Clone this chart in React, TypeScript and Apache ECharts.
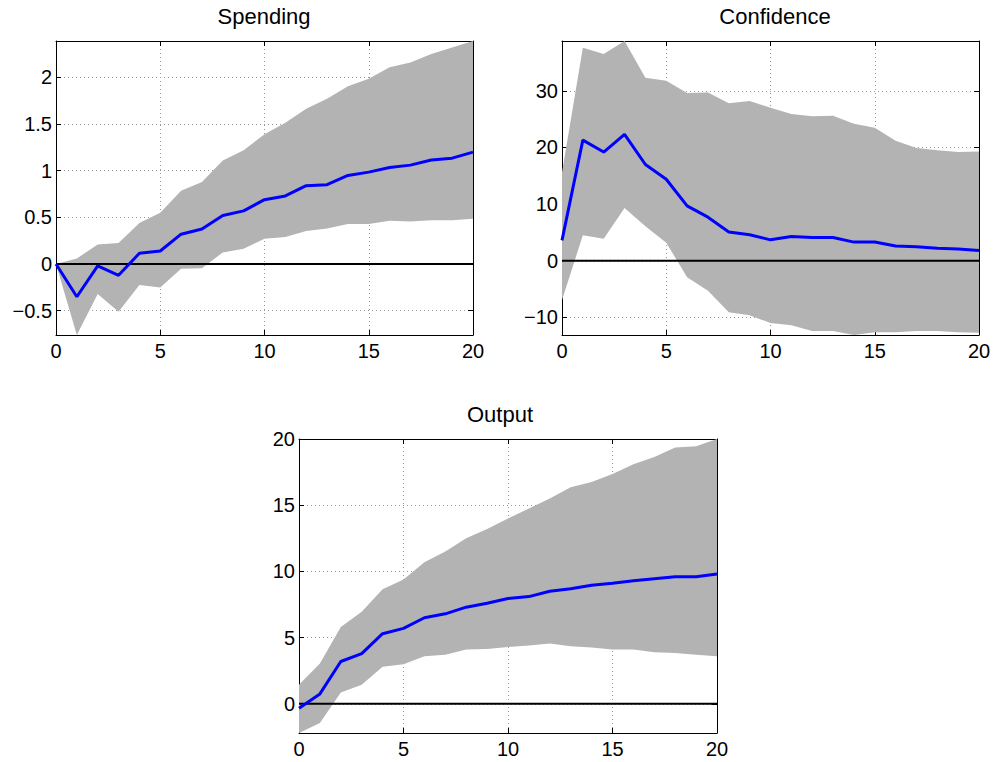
import { useEffect, useRef } from "react";
import * as echarts from "echarts";

const horizon = [0, 1, 2, 3, 4, 5, 6, 7, 8, 9, 10, 11, 12, 13, 14, 15, 16, 17, 18, 19, 20];

const spendingMean = [0, -0.35, -0.02, -0.12, 0.115, 0.14, 0.32, 0.375, 0.52, 0.57, 0.69, 0.73, 0.84, 0.85, 0.95, 0.985, 1.035, 1.06, 1.115, 1.135, 1.2];
const spendingUpper = [0, 0.06, 0.21, 0.225, 0.44, 0.55, 0.785, 0.88, 1.11, 1.22, 1.39, 1.515, 1.665, 1.77, 1.905, 1.985, 2.11, 2.16, 2.25, 2.32, 2.39];
const spendingLower = [0, -0.76, -0.32, -0.51, -0.225, -0.25, -0.05, -0.045, 0.125, 0.165, 0.27, 0.29, 0.355, 0.38, 0.43, 0.43, 0.465, 0.455, 0.47, 0.47, 0.485];

const confidenceMean = [3.6, 21.3, 19.2, 22.3, 17.0, 14.4, 9.7, 7.7, 5.1, 4.6, 3.7, 4.3, 4.1, 4.1, 3.3, 3.3, 2.6, 2.5, 2.2, 2.1, 1.8];
const confidenceUpper = [15.6, 37.6, 36.5, 38.8, 32.3, 31.8, 29.6, 29.7, 27.8, 28.2, 27.0, 25.9, 25.5, 25.6, 24.2, 23.5, 21.2, 19.9, 19.5, 19.2, 19.3];
const confidenceLower = [-6.9, 4.5, 3.9, 9.3, 6.1, 3.2, -2.9, -5.3, -9.1, -9.6, -11.0, -11.4, -12.4, -12.4, -13.1, -12.6, -12.6, -12.4, -12.4, -12.6, -12.7];

const outputMean = [-0.33, 0.75, 3.2, 3.8, 5.3, 5.7, 6.5, 6.8, 7.3, 7.6, 7.95, 8.1, 8.5, 8.7, 8.95, 9.1, 9.3, 9.45, 9.6, 9.6, 9.8];
const outputUpper = [1.45, 3.05, 5.8, 6.95, 8.65, 9.4, 10.7, 11.5, 12.5, 13.2, 14.0, 14.75, 15.5, 16.35, 16.75, 17.35, 18.1, 18.65, 19.35, 19.45, 20.0];
const outputLower = [-2.2, -1.45, 0.85, 1.45, 2.8, 3.0, 3.6, 3.7, 4.1, 4.15, 4.3, 4.4, 4.55, 4.35, 4.25, 4.1, 4.1, 3.9, 3.85, 3.7, 3.6];

const titles = ["Spending", "Confidence", "Output"];
const yTickSteps = [0.5, 10, 5];
const xTickStep = 5;

const panelData = [
  { mean: spendingMean, upper: spendingUpper, lower: spendingLower },
  { mean: confidenceMean, upper: confidenceUpper, lower: confidenceLower },
  { mean: outputMean, upper: outputUpper, lower: outputLower },
];

const layout = [
  { left: 56, top: 41, width: 417, height: 294, titleX: 259, titleY: 0 },
  { left: 562, top: 41, width: 417, height: 294, titleX: 770, titleY: 0 },
  { left: 299, top: 439, width: 418, height: 294, titleX: 495, titleY: 398 },
];

const FONT = "Liberation Sans, Arial, Helvetica, sans-serif";

function fmt(v: number, step: number) {
  const k = v / step;
  if (Math.abs(k - Math.round(k)) > 1e-6) return "";
  const r = Math.round(k) * step;
  const s = String(Math.abs(Number(r.toFixed(6))));
  return r < 0 ? "\u2212" + s : s;
}

export default function App() {
  const ref = useRef<HTMLDivElement>(null);

  useEffect(() => {
    if (!ref.current) return;
    const chart = echarts.init(ref.current, undefined, { renderer: "svg" });

    const grid: any[] = [];
    const xAxis: any[] = [];
    const yAxis: any[] = [];
    const series: any[] = [];
    const title: any[] = [];

    panelData.forEach((p, i) => {
      const L = layout[i];
      grid.push({ left: L.left, top: L.top, width: L.width, height: L.height, show: false });
      title.push({
        text: titles[i],
        left: L.titleX,
        top: L.titleY,
        textAlign: "center",
        textStyle: { fontFamily: FONT, fontSize: 22, fontWeight: "normal", color: "#000" },
      });
      const yMin = Math.min(...p.lower);
      const yMax = Math.max(...p.upper);
      const step = yTickSteps[i];
      const common = {
        axisLine: { show: true, onZero: false, lineStyle: { color: "#000", width: 1 } },
        axisTick: { show: true, inside: true, length: 5, lineStyle: { color: "#000", width: 1 } },
      };
      xAxis.push({
        gridIndex: i,
        type: "value",
        position: "bottom",
        min: horizon[0],
        max: horizon[horizon.length - 1],
        interval: xTickStep,
        ...common,
        axisLabel: { color: "#000", fontFamily: FONT, fontSize: 20, margin: 6, formatter: (v: number) => fmt(v, xTickStep) },
        splitLine: { show: true, lineStyle: { color: "#999", width: 1, type: [1, 3] } },
      });
      xAxis.push({
        gridIndex: i,
        type: "value",
        position: "top",
        min: horizon[0],
        max: horizon[horizon.length - 1],
        interval: xTickStep,
        ...common,
        axisLabel: { show: false },
        splitLine: { show: false },
      });
      yAxis.push({
        gridIndex: i,
        type: "value",
        position: "left",
        min: yMin,
        max: yMax,
        splitNumber: 5,
        ...common,
        axisLabel: { color: "#000", fontFamily: FONT, fontSize: 20, margin: 4, formatter: (v: number) => fmt(v, step) },
        splitLine: { show: true, lineStyle: { color: "#999", width: 1, type: [1, 3] } },
      });
      yAxis.push({
        gridIndex: i,
        type: "value",
        position: "right",
        min: yMin,
        max: yMax,
        splitNumber: 5,
        ...common,
        axisLabel: { show: false },
        splitLine: { show: false },
      });

      const xi = 2 * i;
      const up = p.upper;
      const lo = p.lower;
      series.push({
        type: "custom",
        xAxisIndex: xi,
        yAxisIndex: xi,
        silent: true,
        z: 2,
        data: horizon.map((x, k) => [x, lo[k], up[k]]),
        encode: { x: 0, y: [1, 2] },
        renderItem: (params: any, api: any) => {
          if (params.dataIndex !== 0) return null;
          const pts: number[][] = [];
          for (let k = 0; k < horizon.length; k++) pts.push(api.coord([horizon[k], up[k]]));
          for (let k = horizon.length - 1; k >= 0; k--) pts.push(api.coord([horizon[k], lo[k]]));
          return {
            type: "polygon",
            shape: { points: pts },
            style: { fill: "#b3b3b3", stroke: "none" },
          };
        },
      });
      series.push({
        type: "line",
        xAxisIndex: xi,
        yAxisIndex: xi,
        data: horizon.map((x) => [x, 0]),
        symbol: "none",
        lineStyle: { color: "#000", width: 2 },
        silent: true,
        z: 4,
      });
      series.push({
        type: "line",
        xAxisIndex: xi,
        yAxisIndex: xi,
        data: horizon.map((x, k) => [x, p.mean[k]]),
        symbol: "none",
        lineStyle: { color: "#0000ff", width: 3 },
        silent: true,
        z: 8,
      });
    });

    chart.setOption({
      animation: false,
      backgroundColor: "#fff",
      title,
      grid,
      xAxis,
      yAxis,
      series,
    });

    return () => chart.dispose();
  }, []);

  return (
    <div
      ref={ref}
      style={{ position: "fixed", left: 0, top: 0, width: 994, height: 762 }}
    />
  );
}
